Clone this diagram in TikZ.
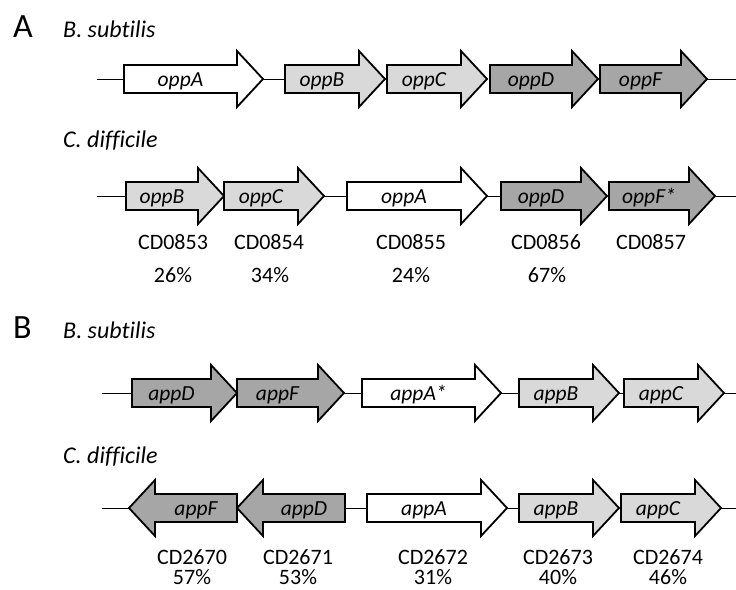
\documentclass[tikz,border=0pt]{standalone}
\usepackage{fontspec}
\setmainfont{Carlito}
\usepackage{xcolor}
\usetikzlibrary{positioning}

\definecolor{lightgene}{HTML}{D9D9D9}
\definecolor{darkgene}{HTML}{A6A6A6}

\tikzset{
  genebody/.style={draw=black,line width=1.8pt,line join=miter},
  genename/.style={font=\fontsize{21.5}{24}\selectfont\itshape,inner sep=0pt,anchor=base},
  locus/.style={font=\fontsize{22}{25}\selectfont,inner sep=0pt,anchor=base},
  species/.style={font=\fontsize{24}{27}\selectfont\itshape\addfontfeature{Ligatures=NoCommon},inner sep=0pt,anchor=base west},
  panel/.style={font=\fontsize{34}{38}\selectfont,inner sep=0pt,anchor=base west},
  chrom/.style={draw=black,line width=0.8pt}
}

% gene arrow: name, tail x, tip x, axis y, fill, label
\newcommand{\gene}[6]{%
  \pgfmathsetmacro\gnheadx{#3-26*sign(#3-#2)}%
  \pgfmathsetmacro\gnmidx{(#2+\gnheadx)/2}%
  \draw[genebody,fill=#5] (#2,#4-14) -- (\gnheadx,#4-14) -- (\gnheadx,#4-28) -- (#3,#4)
    -- (\gnheadx,#4+28) -- (\gnheadx,#4+14) -- (#2,#4+14) -- cycle;
  \coordinate (#1-tail) at (#2,#4);
  \coordinate (#1-tip) at (#3,#4);
  \node[genename] (#1) at (\gnmidx,#4+7.5) {#6};
}

\begin{document}
\begin{tikzpicture}[x=1pt,y=-1pt]
\useasboundingbox (0,0) rectangle (736,589);

% panel A
\node[panel] (panelA) at (13,37) {A};
\node[species] (subA) at (63,37) {B. subtilis};
\coordinate (subA-start) at (97,79);
\coordinate (subA-end) at (736,79);
\gene{sub-oppA}{124}{263}{79}{white}{oppA}
\gene{sub-oppB}{285}{385}{79}{lightgene}{oppB}
\gene{sub-oppC}{387}{487}{79}{lightgene}{oppC}
\gene{sub-oppD}{490}{598}{79}{darkgene}{oppD}
\gene{sub-oppF}{600}{707}{79}{darkgene}{oppF}
\draw[chrom] (subA-start) -- (sub-oppA-tail);
\draw[chrom] (sub-oppA-tip) -- (sub-oppB-tail);
\draw[chrom] (sub-oppF-tip) -- (subA-end);

\node[species] (difA) at (63,147) {C. difficile};
\coordinate (difA-start) at (97,196);
\coordinate (difA-end) at (736,196);
\gene{dif-oppB}{126}{224}{196}{lightgene}{oppB}
\gene{dif-oppC}{224}{324}{196}{lightgene}{oppC}
\gene{dif-oppA}{347}{487}{196}{white}{oppA}
\gene{dif-oppD}{501}{607}{196}{darkgene}{oppD}
\gene{dif-oppF}{609}{715}{196}{darkgene}{oppF*}
\draw[chrom] (difA-start) -- (dif-oppB-tail);
\draw[chrom] (dif-oppC-tip) -- (dif-oppA-tail);
\draw[chrom] (dif-oppA-tip) -- (dif-oppD-tail);
\draw[chrom] (dif-oppF-tip) -- (difA-end);

\node[locus] (cd0853) at (173,249) {CD0853};
\node[locus] (cd0854) at (269,249) {CD0854};
\node[locus] (cd0855) at (411,249) {CD0855};
\node[locus] (cd0856) at (546,249) {CD0856};
\node[locus] (cd0857) at (651,249) {CD0857};
\node[locus] (id0853) at (173,282) {26\%};
\node[locus] (id0854) at (270,282) {34\%};
\node[locus] (id0855) at (411,282) {24\%};
\node[locus] (id0856) at (547,282) {67\%};

% panel B
\node[panel] (panelB) at (13,338) {B};
\node[species] (subB) at (63,338) {B. subtilis};
\coordinate (subB-start) at (102,393);
\coordinate (subB-end) at (736,393);
\gene{sub-appD}{132}{237}{393}{darkgene}{appD}
\gene{sub-appF}{237}{344}{393}{darkgene}{appF}
\gene{sub-appA}{362}{501}{393}{white}{appA*}
\gene{sub-appB}{519}{619}{393}{lightgene}{appB}
\gene{sub-appC}{624}{724}{393}{lightgene}{appC}
\draw[chrom] (subB-start) -- (sub-appD-tail);
\draw[chrom] (sub-appF-tip) -- (sub-appA-tail);
\draw[chrom] (sub-appA-tip) -- (sub-appB-tail);
\draw[chrom] (sub-appB-tip) -- (sub-appC-tail);
\draw[chrom] (sub-appC-tip) -- (subB-end);

\node[species] (difB) at (63,463) {C. difficile};
\coordinate (difB-start) at (102,508);
\coordinate (difB-end) at (736,508);
\gene{dif-appF}{237}{129}{508}{darkgene}{appF}
\gene{dif-appD}{345}{237}{508}{darkgene}{appD}
\gene{dif-appA}{367}{507}{508}{white}{appA}
\gene{dif-appB}{519}{619}{508}{lightgene}{appB}
\gene{dif-appC}{621}{721}{508}{lightgene}{appC}
\draw[chrom] (difB-start) -- (dif-appF-tip);
\draw[chrom] (dif-appD-tail) -- (dif-appA-tail);
\draw[chrom] (dif-appA-tip) -- (dif-appB-tail);
\draw[chrom] (dif-appC-tip) -- (difB-end);

\node[locus] (cd2670) at (192,564) {CD2670};
\node[locus] (cd2671) at (298,564) {CD2671};
\node[locus] (cd2672) at (433,564) {CD2672};
\node[locus] (cd2673) at (558,564) {CD2673};
\node[locus] (cd2674) at (668,564) {CD2674};
\node[locus] (id2670) at (192,584) {57\%};
\node[locus] (id2671) at (298,584) {53\%};
\node[locus] (id2672) at (433,584) {31\%};
\node[locus] (id2673) at (558,584) {40\%};
\node[locus] (id2674) at (668,584) {46\%};
\end{tikzpicture}
\end{document}
